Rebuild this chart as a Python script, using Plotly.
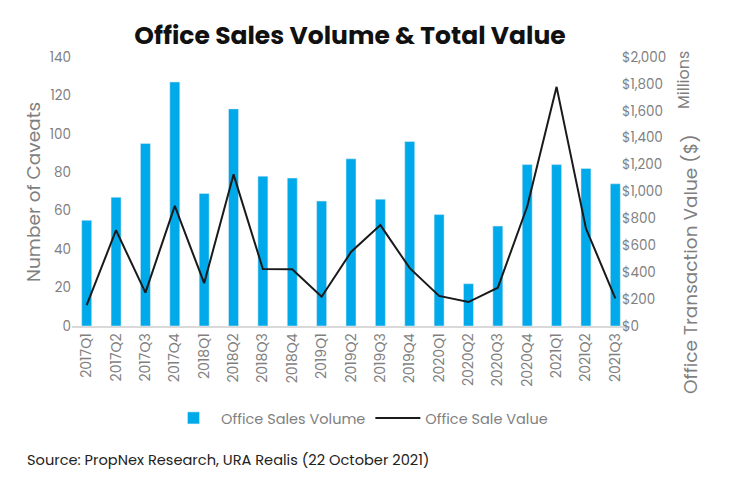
import plotly.graph_objects as go

quarters = ["2017Q1","2017Q2","2017Q3","2017Q4","2018Q1","2018Q2","2018Q3","2018Q4",
            "2019Q1","2019Q2","2019Q3","2019Q4","2020Q1","2020Q2","2020Q3","2020Q4",
            "2021Q1","2021Q2","2021Q3"]
sales_volume = [55, 67, 95, 127, 69, 113, 78, 77, 65, 87, 66, 96, 58, 22, 52, 84, 84, 82, 74]
sale_value = [155, 712, 248, 893, 318, 1127, 424, 422, 218, 550, 750, 430, 224, 178, 285, 888, 1778, 726, 206]
left_ticks = [0, 20, 40, 60, 80, 100, 120, 140]
right_ticks = [0, 200, 400, 600, 800, 1000, 1200, 1400, 1600, 1800, 2000]
right_labels = ["$" + f"{v:,}" for v in right_ticks]

FONT = "Poppins, Lato, 'Open Sans', sans-serif"
GREY = "#7f7f7f"

# page offset (browser default body margin)
OFF = 8
L, R, T, B = 64, 109, 49, 164
W, H = 731, 482
pw = W - L - R
ph = H - T - B
X0 = OFF + L          # plot left in page px
Y0 = OFF + T + ph     # plot bottom in page px


def px(x):
    return (x - X0) / pw


def py(y):
    return (Y0 - y) / ph


fig = go.Figure()
fig.add_trace(go.Bar(x=quarters, y=sales_volume, name="Office Sales Volume",
                     marker_color="#00A9E9", width=0.34, yaxis="y"))
fig.add_trace(go.Scatter(x=quarters, y=sale_value, name="Office Sale Value", mode="lines",
                         line=dict(color="#1a1a1a", width=2), yaxis="y2"))

fig.update_layout(
    width=W, height=H,
    margin=dict(l=L, r=R, t=T, b=B, autoexpand=False),
    paper_bgcolor="white", plot_bgcolor="white",
    font=dict(family=FONT, color=GREY),
    title=dict(text="<b>Office Sales Volume & Total Value</b>", x=(350 - OFF) / W, xanchor="center",
               y=1 - (35 - OFF) / H, yanchor="middle", font=dict(size=25, color="#111111", family=FONT)),
    xaxis=dict(showgrid=False, showline=True, linecolor="#d9d9d9", linewidth=1.5,
               tickangle=-90, tickfont=dict(size=14, color=GREY), ticks="",
               range=[-0.5, 18.5]),
    yaxis=dict(range=[0, 140], tickvals=left_ticks, showgrid=False, zeroline=False,
               tickfont=dict(size=13.5, color=GREY), ticks=""),
    yaxis2=dict(range=[0, 2000], tickvals=right_ticks, ticktext=right_labels, overlaying="y",
                side="right", showgrid=False, zeroline=False, ticklabelstandoff=-9,
                tickfont=dict(size=13.5, color=GREY), ticks=""),
    showlegend=True,
    legend=dict(orientation="h", x=px(166), xanchor="left", y=py(418), yanchor="middle",
                font=dict(size=14.5, color=GREY), itemwidth=45, traceorder="normal"),
    annotations=[
        dict(text="Number of Caveats", x=px(33), y=py(192), xanchor="center", yanchor="middle",
             showarrow=False, textangle=-90, font=dict(size=18.5, color=GREY)),
        dict(text="Office Transaction Value ($)", x=px(690), y=py(264), xanchor="center",
             yanchor="middle", showarrow=False, textangle=-90, font=dict(size=18.5, color=GREY)),
        dict(text="Millions", x=px(683), y=py(80), xanchor="center", yanchor="middle",
             showarrow=False, textangle=-90, font=dict(size=16, color=GREY)),
        dict(text="Source: PropNex Research, URA Realis (22 October 2021)", x=px(25), y=py(460),
             showarrow=False, xanchor="left", yanchor="middle",
             font=dict(size=14.6, color="#222222")),
    ],
)
for a in fig.layout.annotations:
    a.xref = "paper"
    a.yref = "paper"

fig.write_html("out.html")
